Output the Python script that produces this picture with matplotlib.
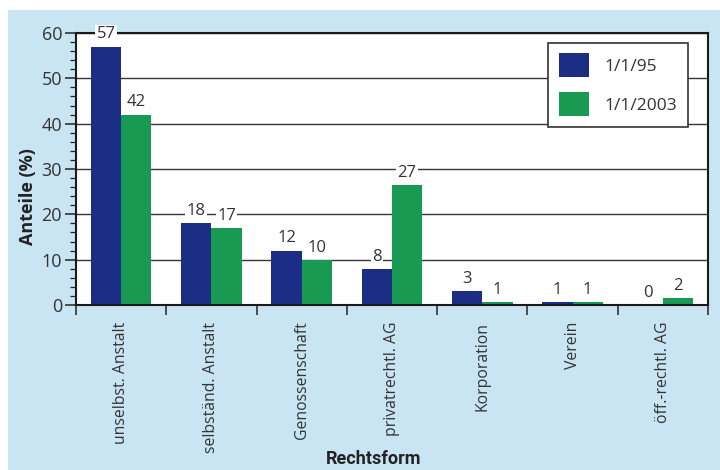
import matplotlib
matplotlib.use("Agg")
import matplotlib.pyplot as plt
from matplotlib.patches import Rectangle
import numpy as np

plt.rcParams['font.family'] = ['Open Sans', 'DejaVu Sans']

categories = ["unselbst. Anstalt", "selbständ. Anstalt", "Genossenschaft",
              "privatrechtl. AG", "Korporation", "Verein", "öff.-rechtl. AG"]
series_names = ["1/1/95", "1/1/2003"]
values_1995 = [57, 18, 12, 8, 3, 0.6, 0]
values_2003 = [42, 17, 10, 26.5, 0.6, 0.6, 1.5]
labels_1995 = ["57", "18", "12", "8", "3", "1", "0"]
labels_2003 = ["42", "17", "10", "27", "1", "1", "2"]
y_ticks = [0, 10, 20, 30, 40, 50, 60]

c_blue = "#1c2d86"
c_green = "#189a52"
bg = "#c9e4f3"
txt = "#333333"

fig = plt.figure(figsize=(7.2, 4.7), dpi=100, facecolor="white")
fig.patches.append(Rectangle((8/720, 0), 1 - 8/720, (470-10)/470,
                             transform=fig.transFigure, facecolor=bg,
                             edgecolor="none", zorder=-10))
ax = fig.add_axes([76/720, 1-305/470, (708-76)/720, (305-33)/470])
ax.set_zorder(1)
ax.set_facecolor("white")

x = np.arange(len(categories))
w = 0.335
b1 = ax.bar(x - w/2, values_1995, w, color=c_blue, label=series_names[0], zorder=3)
b2 = ax.bar(x + w/2, values_2003, w, color=c_green, label=series_names[1], zorder=3)

for bars, labs in ((b1, labels_1995), (b2, labels_2003)):
    for rect, lab in zip(bars, labs):
        ax.annotate(lab, (rect.get_x() + rect.get_width()/2, rect.get_height()),
                    xytext=(0, 3), textcoords="offset points",
                    ha="center", va="bottom", fontsize=12, color=txt,
                    bbox=dict(boxstyle="square,pad=0.08", fc="white", ec="none"),
                    zorder=6, annotation_clip=False)

ax.set_ylim(0, 60)
ax.set_xlim(-0.5, len(categories) - 0.5)
ax.set_yticks(y_ticks)
ax.set_yticks(np.arange(0, 61, 2), minor=True)
ax.set_yticklabels([str(t) for t in y_ticks], fontsize=13, color=txt)
ax.tick_params(axis="y", which="major", direction="out", length=8, width=1.1, color="#222222", pad=2)
ax.tick_params(axis="y", which="minor", direction="out", length=4, width=0.9, color="#222222")

ax.set_xticks(np.arange(-0.5, len(categories), 1.0))
ax.set_xticklabels([])
ax.set_xticks(x, minor=True)
ax.set_xticklabels(categories, minor=True, rotation=90, fontsize=11.3, color=txt, va="top")
ax.tick_params(axis="x", which="major", direction="out", length=7, width=1.1, color="#222222")
ax.tick_params(axis="x", which="minor", length=0, pad=12)

ax.grid(axis="y", which="major", color="#3a3333", linewidth=1.0, zorder=1)
ax.set_axisbelow(True)
for s in ax.spines.values():
    s.set_color("#1a1a1a")
    s.set_linewidth(1.5)
    s.set_zorder(4)

ax.set_ylabel("Anteile (%)", fontsize=13, fontweight="bold", color="#222222")
ax.yaxis.set_label_coords(-(76 - 37) / 632, 0.40)
fig.text(374/720, 1 - 459/470, "Rechtsform", ha="center", va="center",
         fontsize=13, fontweight="bold", color="#222222",
         family=["Liberation Sans Narrow", "Roboto", "DejaVu Sans"])

leg = ax.legend(loc="upper right", bbox_to_anchor=(0.968, 0.963), fontsize=12.5,
                handlelength=1.75, handleheight=1.75, labelspacing=0.85,
                handletextpad=0.9, borderpad=0.6, fancybox=False, framealpha=1,
                edgecolor="#333333", borderaxespad=0)
leg.get_frame().set_linewidth(1.2)
for t in leg.get_texts():
    t.set_color(txt)
leg.set_zorder(7)

fig.savefig("out.png", dpi=100, facecolor=fig.get_facecolor())
